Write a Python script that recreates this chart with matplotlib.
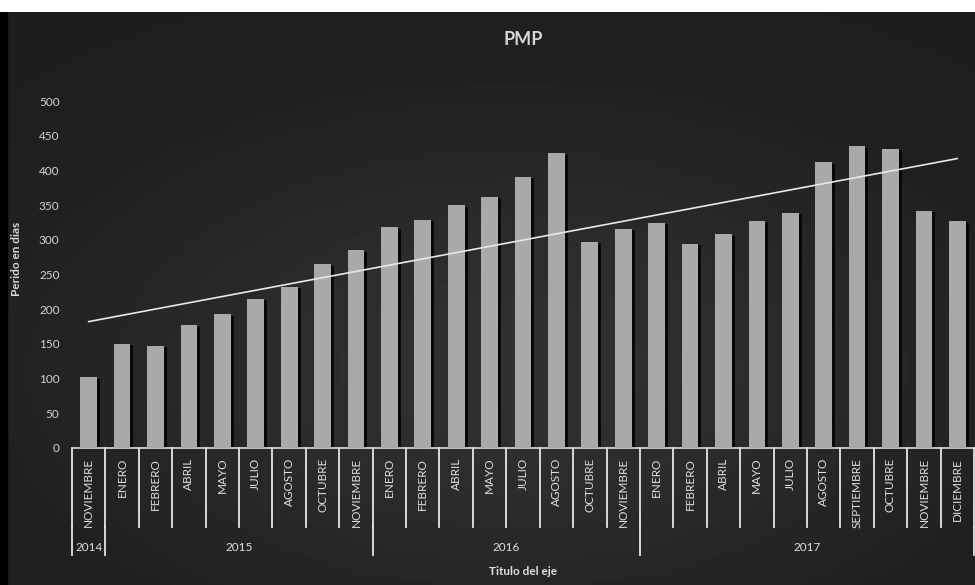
import numpy as np
import matplotlib
matplotlib.use("Agg")
import matplotlib.pyplot as plt
import matplotlib.transforms as mtransforms
from matplotlib.patches import Rectangle

plt.rcParams['font.family'] = ['Lato', 'DejaVu Sans']

# data
meses = ['NOVIEMBRE',
         'ENERO', 'FEBRERO', 'ABRIL', 'MAYO', 'JULIO', 'AGOSTO', 'OCTUBRE', 'NOVIEMBRE',
         'ENERO', 'FEBRERO', 'ABRIL', 'MAYO', 'JULIO', 'AGOSTO', 'OCTUBRE', 'NOVIEMBRE',
         'ENERO', 'FEBRERO', 'ABRIL', 'MAYO', 'JULIO', 'AGOSTO', 'SEPTIEMBRE', 'OCTUBRE',
         'NOVIEMBRE', 'DICIEMBRE']
anios = ['2014', '2015', '2016', '2017']
meses_por_anio = [1, 8, 8, 10]
dias = [102, 150, 147, 177, 193, 215, 232, 265, 285,
        318, 329, 350, 362, 391, 425, 297, 316,
        325, 294, 308, 327, 339, 412, 435, 431, 342, 327]

fig = plt.figure(figsize=(9.75, 5.85), dpi=100, facecolor='white')

# dark scanned background with soft lighter middle
bg = fig.add_axes([0.0, 0.0, 1.0, 1 - 12 / 585])
gx, gy = np.meshgrid(np.linspace(-1, 1, 200), np.linspace(-1, 1, 120))
glow = np.exp(-((gx - 0.05) ** 2 / 0.9 + (gy - 0.25) ** 2 / 0.8))
bg.imshow(0.11 + 0.08 * glow, cmap='gray', vmin=0, vmax=1, aspect='auto',
          extent=[0, 1, 0, 1])
bg.add_patch(Rectangle((0, 0), 7 / 975, 1, color='black'))
bg.set_axis_off()

ax = fig.add_axes([72 / 975, 137 / 585, 902 / 975, 378 / 585])
ax.set_facecolor('none')

x = np.arange(len(dias))
ax.bar(x + 0.09, np.array(dias) - 2, width=0.5, color='#080808', zorder=2)
ax.bar(x, dias, width=0.5, color='#a9a9a9', zorder=3)

# linear trend line
coef = np.polyfit(x, dias, 1)
ax.plot(x, np.polyval(coef, x), color='#e8e8e8', lw=1.2, zorder=4)

ax.set_xlim(-0.5, len(dias) - 0.5)
ax.set_ylim(0, 545)
ax.set_yticks(range(0, 501, 50))
ax.tick_params(axis='y', length=0, pad=9, labelsize=8.5, labelcolor='#d4d4d4')
ax.set_xticks([])
for s in ['top', 'right', 'left']:
    ax.spines[s].set_visible(False)
ax.spines['bottom'].set_color('#dddddd')
ax.spines['bottom'].set_linewidth(1.2)

ax.set_title('PMP', color='#d8d8d8', fontsize=13, fontweight='bold', pad=18)
ax.set_ylabel('Perido en dias', color='#d8d8d8', fontsize=8.5, fontweight='bold',
              labelpad=12)

# two-level category axis
trans = mtransforms.blended_transform_factory(ax.transData, ax.transAxes)
for i, m in enumerate(meses):
    ax.text(i, -0.026, m, rotation=90, ha='center', va='top', color='#e0e0e0',
            fontsize=8.5, transform=trans)
for b in np.arange(len(meses) + 1) - 0.5:
    ax.plot([b, b], [0, -0.209], color='#e6e6e6', lw=1.3, transform=trans,
            clip_on=False)

start = 0
bordes = [-0.5]
for anio, n in zip(anios, meses_por_anio):
    ax.text(start + (n - 1) / 2, -0.262, anio, ha='center', va='center',
            color='#e0e0e0', fontsize=8.5, transform=trans)
    start += n
    bordes.append(start - 0.5)
for b in bordes:
    ax.plot([b, b], [-0.209, -0.283], color='#e6e6e6', lw=1.3, transform=trans,
            clip_on=False)

ax.text(0.5, -0.328, 'Titulo del eje', ha='center', va='center', color='#e0e0e0',
        fontsize=8.5, fontweight='bold', transform=ax.transAxes)

fig.savefig('out.png', dpi=100, facecolor='white')
